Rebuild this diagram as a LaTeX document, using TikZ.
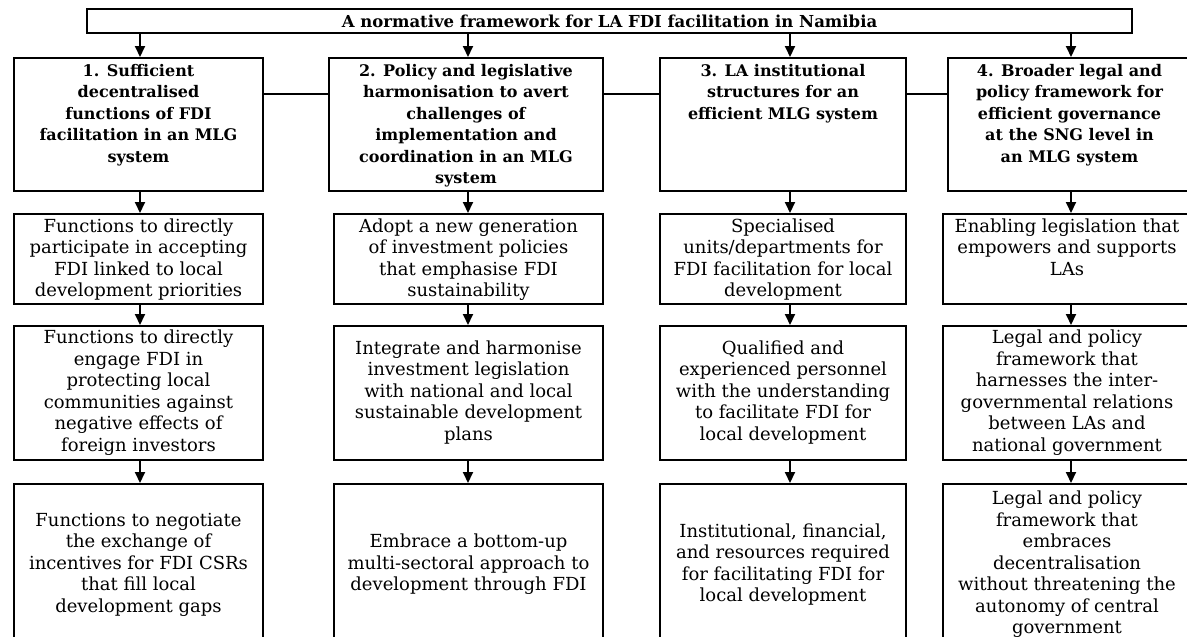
\documentclass[tikz,border=0pt]{standalone}
\usepackage{fontspec}
\setmainfont{DejaVu Serif}
\usetikzlibrary{arrows.meta}

% text block of a box: height, inner position, width, lines
\newcommand{\cell}[4]{\parbox[c][\dimexpr#1pt-6pt\relax][#2]{\dimexpr#3pt-6pt\relax}{\centering
    \begin{tabular}{@{}c@{}}#4\end{tabular}}}

\tikzset{
  frame/.style={draw, line width=2pt, inner sep=3pt, anchor=north west,
    font={\fontsize{18}{21.5}\selectfont}},
  headframe/.style={frame, font={\fontsize{16}{21.5}\selectfont\bfseries}},
  link/.style={line width=2pt, -{Triangle[length=11pt, width=10pt]}},
  joint/.style={line width=2pt},
}

\begin{document}
\begin{tikzpicture}[x=1pt, y=-1pt]

  \useasboundingbox (0,0) rectangle (1187,637);

  \node[headframe, anchor=center, minimum width=1045pt, minimum height=24pt, inner sep=0pt,
    font={\fontsize{16.5}{20}\selectfont\bfseries}]
    (title) at (609.5,21) {A normative framework for LA FDI facilitation in Namibia};

  % headings of the four pillars
  \node[headframe] (hd1) at (13,57) {\cell{133}{t}{249}{1. Sufficient\\ decentralised\\
      functions of FDI\\ facilitation in an MLG\\ system}};
  \node[headframe] (hd2) at (328,57) {\cell{133}{t}{274}{2. Policy and legislative\\
      harmonisation to avert\\ challenges of\\ implementation and\\ coordination in an MLG\\ system}};
  \node[headframe] (hd3) at (659,57) {\cell{133}{t}{246}{3. LA institutional\\
      structures for an\\ efficient MLG system}};
  \node[headframe] (hd4) at (947,57) {\cell{133}{t}{243}{4. Broader legal and\\
      policy framework for\\ efficient governance\\ at the SNG level in\\ an MLG system}};

  % second row
  \node[frame] (fa1) at (13,213) {\cell{90}{t}{249}{Functions to directly\\
      participate in accepting\\ FDI linked to local\\ development priorities}};
  \node[frame] (fa2) at (333,213) {\cell{90}{t}{269}{Adopt a new generation\\
      of investment policies\\ that emphasise FDI\\ sustainability}};
  \node[frame] (fa3) at (659,213) {\cell{90}{t}{246}{Specialised\\
      units/departments for\\ FDI facilitation for local\\ development}};
  \node[frame] (fa4) at (942,213) {\cell{90}{t}{248}{Enabling legislation that\\
      empowers and supports\\ LAs}};

  % third row
  \node[frame] (fb1) at (13,325) {\cell{134}{c}{249}{Functions to directly\\
      engage FDI in\\ protecting local\\ communities against\\ negative effects of\\ foreign investors}};
  \node[frame] (fb2) at (333,325) {\cell{134}{c}{269}{Integrate and harmonise\\
      investment legislation\\ with national and local\\ sustainable development\\ plans}};
  \node[frame] (fb3) at (659,325) {\cell{134}{c}{246}{Qualified and\\
      experienced personnel\\ with the understanding\\ to facilitate FDI for\\ local development}};
  \node[frame] (fb4) at (942,325) {\cell{134}{c}{248}{Legal and policy\\
      framework that\\ harnesses the inter-\\ governmental relations\\ between LAs and\\ national government}};

  % fourth row
  \node[frame] (fc1) at (13,483) {\cell{162}{c}{249}{Functions to negotiate\\
      the exchange of\\ incentives for FDI CSRs\\ that fill local\\ development gaps}};
  \node[frame] (fc2) at (333,483) {\cell{162}{c}{269}{Embrace a bottom-up\\
      multi-sectoral approach to\\ development through FDI}};
  \node[frame] (fc3) at (659,483) {\cell{162}{c}{246}{Institutional, financial,\\
      and resources required\\ for facilitating FDI for\\ local development}};
  \node[frame] (fc4) at (942,483) {\cell{162}{c}{248}{Legal and policy\\
      framework that\\ embraces\\ decentralisation\\ without threatening the\\ autonomy of central\\ government}};

  % columns of the arrows and height of the joints
  \coordinate (k1) at (140,0);
  \coordinate (k2) at (468,0);
  \coordinate (k3) at (790,0);
  \coordinate (k4) at (1071,0);
  \coordinate (jy) at (0,94);

  \draw[joint] (hd1.east |- jy) -- (hd2.west |- jy);
  \draw[joint] (hd2.east |- jy) -- (hd3.west |- jy);
  \draw[joint] (hd3.east |- jy) -- (hd4.west |- jy);

  \draw[link] (title.south -| k1) -- (hd1.north -| k1);
  \draw[link] (title.south -| k2) -- (hd2.north -| k2);
  \draw[link] (title.south -| k3) -- (hd3.north -| k3);
  \draw[link] (title.south -| k4) -- (hd4.north -| k4);

  \draw[link] (hd1.south -| k1) -- (fa1.north -| k1);
  \draw[link] (hd2.south -| k2) -- (fa2.north -| k2);
  \draw[link] (hd3.south -| k3) -- (fa3.north -| k3);
  \draw[link] (hd4.south -| k4) -- (fa4.north -| k4);

  \draw[link] (fa1.south -| k1) -- (fb1.north -| k1);
  \draw[link] (fa2.south -| k2) -- (fb2.north -| k2);
  \draw[link] (fa3.south -| k3) -- (fb3.north -| k3);
  \draw[link] (fa4.south -| k4) -- (fb4.north -| k4);

  \draw[link] (fb1.south -| k1) -- (fc1.north -| k1);
  \draw[link] (fb2.south -| k2) -- (fc2.north -| k2);
  \draw[link] (fb3.south -| k3) -- (fc3.north -| k3);
  \draw[link] (fb4.south -| k4) -- (fc4.north -| k4);
\end{tikzpicture}
\end{document}
